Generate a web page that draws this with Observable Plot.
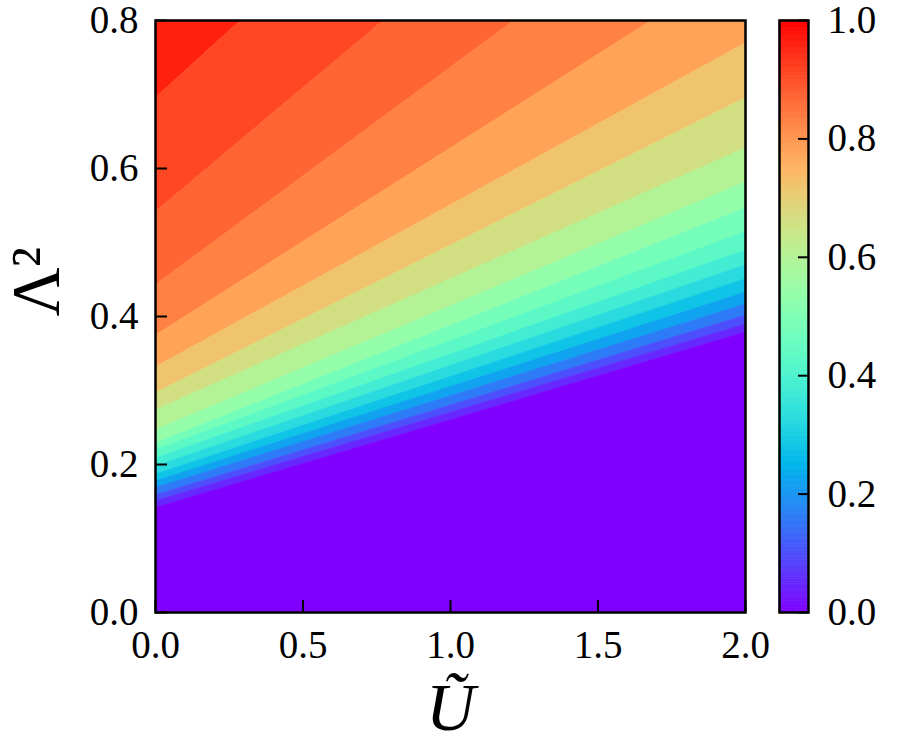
<!DOCTYPE html>
<html><head><meta charset="utf-8">
<script src="https://cdn.jsdelivr.net/npm/d3@7"></script>
<script src="https://cdn.jsdelivr.net/npm/@observablehq/plot@0.6"></script>
<style>
body{margin:0;background:#fff}
#wrap{position:relative;width:900px;height:742px;overflow:hidden}
#wrap svg{position:absolute;top:0}
</style>
</head><body><div id="wrap"></div>
<script>
// ---- data ----
const uTicks = [0, 0.5, 1.0, 1.5, 2.0];
const lambdaTicks = [0, 0.2, 0.4, 0.6, 0.8];
const cbarTicks = [0, 0.2, 0.4, 0.6, 0.8, 1.0];
const uEdges = [0, 2];
// value of each colour band, top-left (high) to bottom (zero)
const bandValues = [0.96, 0.91, 0.87, 0.83, 0.78, 0.72, 0.66, 0.60, 0.54, 0.48,
                    0.43, 0.38, 0.33, 0.28, 0.22, 0.16, 0.10, 0.05, 0.0];
// Λ² of the boundary between band i and i+1, at Ũ = 0 and at Ũ = 2 (beyond 0.8 is clipped)
const boundaryAtU0 = [0.695, 0.541, 0.442, 0.374, 0.331, 0.296, 0.273, 0.246, 0.228,
                      0.219, 0.208, 0.197, 0.186, 0.177, 0.168, 0.158, 0.150, 0.141];
const boundaryAtU2 = [1.42, 1.21, 1.03, 0.88, 0.769, 0.695, 0.627, 0.581, 0.546,
                      0.514, 0.489, 0.469, 0.450, 0.432, 0.416, 0.401, 0.389, 0.378];

// matplotlib "rainbow" colormap
function rainbow(t) {
  const c = v => Math.max(0, Math.min(1, v));
  const r = c(Math.abs(2 * t - 0.5)), g = c(Math.sin(Math.PI * t)), b = c(Math.cos(Math.PI * t / 2));
  return d3.rgb(r * 255, g * 255, b * 255).formatHex();
}

const boundaries = [boundaryAtU0, boundaryAtU2];
const yMax = lambdaTicks[lambdaTicks.length - 1];
const rows = [];
bandValues.forEach((v, i) => {
  uEdges.forEach((u, j) => {
    rows.push({
      band: i, v, u,
      hi: i === 0 ? yMax : boundaries[j][i - 1],
      lo: i === bandValues.length - 1 ? 0 : boundaries[j][i]
    });
  });
});

const font = "'Liberation Serif', 'Times New Roman', serif";
const fmt = d3.format(".1f");
const colorScale = {type: "linear", domain: [0, 1], interpolate: rainbow};

const main = Plot.plot({
  width: 770, height: 742,
  marginLeft: 155, marginRight: 25, marginTop: 20, marginBottom: 130,
  x: {domain: [0, 2]},
  y: {domain: [0, yMax]},
  color: colorScale,
  style: {fontFamily: font, fontSize: "39px", color: "black", background: "transparent", overflow: "visible"},
  marks: [
    Plot.areaY(rows, {x: "u", y1: "lo", y2: "hi", z: "band", fill: "v", stroke: "v", strokeWidth: 0.8, clip: true}),
    Plot.frame({stroke: "black", strokeWidth: 2.5}),
    Plot.axisX({ticks: uTicks, tickFormat: fmt, tickSize: -12, tickPadding: 30, strokeWidth: 2, fontSize: 39, label: null}),
    Plot.axisY({ticks: lambdaTicks, tickFormat: fmt, tickSize: -12, tickPadding: 29, strokeWidth: 2, fontSize: 39, label: null}),
    Plot.text(["Ũ"], {frameAnchor: "bottom", dy: 117, fontSize: 68, fontStyle: "italic", fontFamily: font}),
    Plot.text(["Λ²"], {frameAnchor: "left", dx: -119, rotate: -90, fontSize: 68, fontFamily: font})
  ]
});
main.style.left = "0px";

const step = 0.004;
const cells = d3.range(0, 1, step);
const cbar = Plot.plot({
  width: 140, height: 742,
  marginLeft: 19, marginRight: 92, marginTop: 20, marginBottom: 130,
  x: {domain: [0, 1], axis: null},
  y: {domain: [0, 1]},
  color: colorScale,
  style: {fontFamily: font, fontSize: "39px", color: "black", background: "transparent", overflow: "visible"},
  marks: [
    Plot.rect(cells, {x1: 0, x2: 1, y1: d => d, y2: d => Math.min(1, d + step), fill: d => d + step / 2, stroke: d => d + step / 2, strokeWidth: 0.6}),
    Plot.frame({stroke: "black", strokeWidth: 2.5}),
    Plot.axisY({anchor: "right", ticks: cbarTicks, tickFormat: fmt, tickSize: -11, tickPadding: 30, strokeWidth: 2, fontSize: 39, label: null})
  ]
});
cbar.style.left = "760px";

const wrap = document.getElementById("wrap");
wrap.appendChild(main);
wrap.appendChild(cbar);
</script>
</body></html>
